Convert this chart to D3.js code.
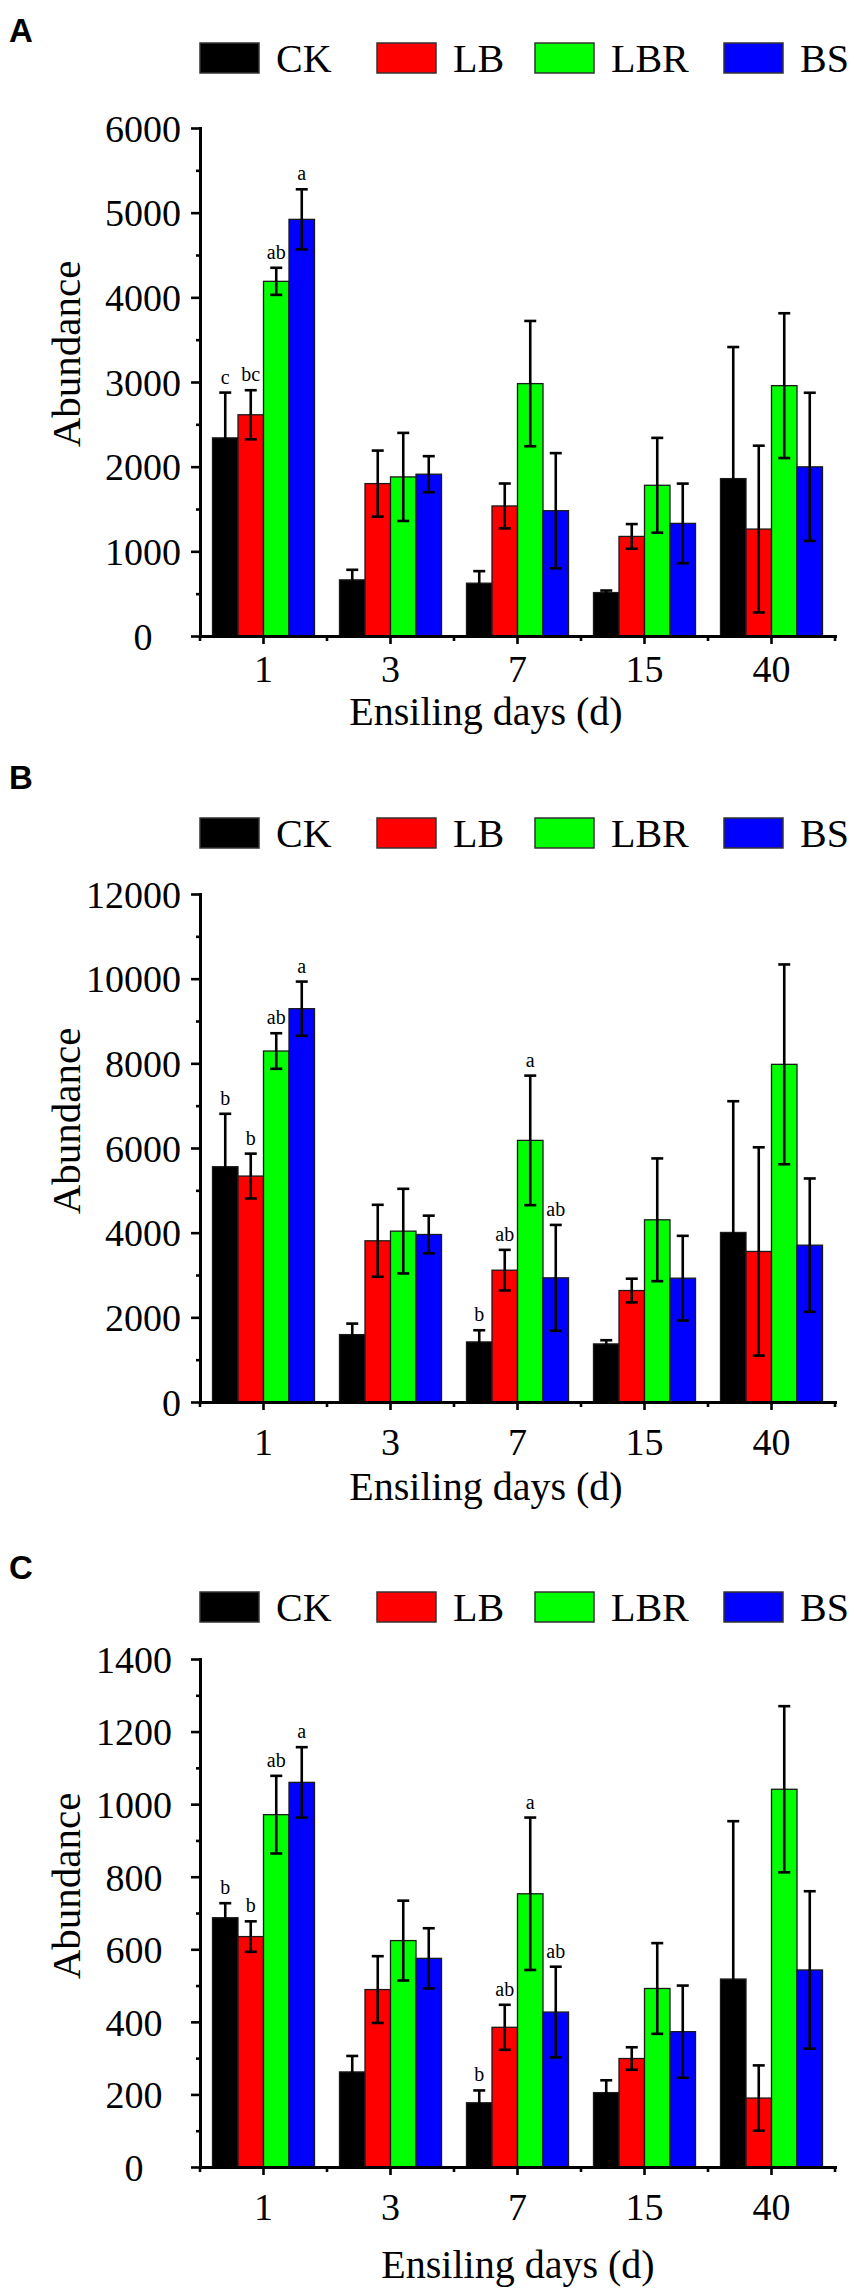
<!DOCTYPE html>
<html>
<head>
<meta charset="utf-8">
<script src="https://cdn.jsdelivr.net/npm/d3@7"></script>
<style>
body{margin:0;background:#fff}
text{font-family:"Liberation Serif","Times New Roman",serif;fill:#000}
</style>
</head>
<body>
<svg id="fig" width="854" height="2296"></svg>
<script>
// categories and series
var days = ["1", "3", "7", "15", "40"];
var groups = ["CK", "LB", "LBR", "BS"];
var colors = ["#000000", "#ff0000", "#00ff00", "#0000ff"];

// panel A  (rows = CK, LB, LBR, BS ; columns = days)
var meansA = [
    [2340, 663, 624, 513, 1859],
    [2613, 1800, 1536, 1176, 1263],
    [4189, 1879, 2981, 1780, 2957],
    [4921, 1911, 1480, 1330, 1998]
];
var errsA = [
    [535, 119, 142, 24, 1554],
    [290, 390, 265, 146, 985],
    [160, 520, 740, 560, 855],
    [355, 213, 680, 470, 875]
];
var lettersA = [
    ["c", "", "", "", ""],
    ["bc", "", "", "", ""],
    ["ab", "", "", "", ""],
    ["a", "", "", "", ""]
];
var ticksA = [0, 1000, 2000, 3000, 4000, 5000, 6000];

// panel B
var meansB = [
    [5558, 1592, 1419, 1372, 4005],
    [5337, 3808, 3114, 2633, 3556],
    [8291, 4036, 6180, 4304, 7976],
    [9291, 3957, 2933, 2925, 3705]
];
var errsB = [
    [1250, 260, 276, 87, 3100],
    [530, 850, 480, 280, 2460],
    [420, 1000, 1530, 1450, 2360],
    [640, 445, 1250, 1000, 1575]
];
var lettersB = [
    ["b", "", "b", "", ""],
    ["b", "", "ab", "", ""],
    ["ab", "", "a", "", ""],
    ["a", "", "ab", "", ""]
];
var ticksB = [0, 2000, 4000, 6000, 8000, 10000, 12000];

// panel C
var meansC = [
    [687, 262, 177, 205, 518],
    [635, 489, 385, 299, 190],
    [971, 624, 753, 492, 1041],
    [1060, 575, 427, 373, 543]
];
var errsC = [
    [40, 44, 34, 34, 435],
    [42, 92, 62, 31, 90],
    [107, 110, 210, 125, 229],
    [97, 83, 125, 127, 217]
];
var lettersC = [
    ["b", "", "b", "", ""],
    ["b", "", "ab", "", ""],
    ["ab", "", "a", "", ""],
    ["a", "", "ab", "", ""]
];
var ticksC = [0, 200, 400, 600, 800, 1000, 1200, 1400];

// layout for each panel
var layouts = [
    {letter: "A", letterY: 42, legendY: 43, top: 128, base: 636, tickY: 682, titleY: 725, titleX: 486, yLabX: 143, yLabAnchor: "middle", yTitleY: 354},
    {letter: "B", letterY: 789, legendY: 818, top: 894, base: 1402, tickY: 1455, titleY: 1500, titleX: 486, yLabX: 181, yLabAnchor: "end", yTitleY: 1121},
    {letter: "C", letterY: 1579, legendY: 1592, top: 1659, base: 2167, tickY: 2220, titleY: 2278, titleX: 518, yLabX: 134, yLabAnchor: "middle", yTitleY: 1886}
];
var panelData = [
    {means: meansA, errs: errsA, letters: lettersA, ticks: ticksA},
    {means: meansB, errs: errsB, letters: lettersB, ticks: ticksB},
    {means: meansC, errs: errsC, letters: lettersC, ticks: ticksC}
];
var legendX = [200, 377, 535, 724];

var left = 200, right = 835;
var svg = d3.select("#fig");

function drawPanel(d, lay){
    var g = svg.append("g").attr("class", "panel" + lay.letter);

    var x0 = d3.scaleBand().domain(days).range([left, right]).padding(0);
    var x1 = d3.scaleBand().domain(groups).range([0, x0.bandwidth()])
        .paddingInner(0).paddingOuter(0.49);
    var y = d3.scaleLinear().domain([0, d.ticks[d.ticks.length - 1]]).range([lay.base, lay.top]);

    // panel letter
    g.append("text")
        .attr("x", 9).attr("y", lay.letterY)
        .style("font-family", "'Liberation Sans', Arial, sans-serif")
        .style("font-weight", "bold")
        .style("font-size", "33px")
        .text(lay.letter);

    // legend
    groups.forEach(function(name, i){
        g.append("rect")
            .attr("x", legendX[i]).attr("y", lay.legendY)
            .attr("width", 59).attr("height", 30)
            .attr("fill", colors[i]).attr("stroke", "#333").attr("stroke-width", 1.5);
        g.append("text")
            .attr("x", legendX[i] + 76).attr("y", lay.legendY + 29)
            .style("font-size", "40px")
            .text(name);
    });

    // bars
    var rows = [];
    groups.forEach(function(name, gi){
        days.forEach(function(day, di){
            rows.push({day: day, group: name, gi: gi, v: d.means[gi][di], e: d.errs[gi][di], lab: d.letters[gi][di]});
        });
    });

    g.append("g").selectAll("rect").data(rows).join("rect")
        .attr("x", function(r){ return x0(r.day) + x1(r.group); })
        .attr("y", function(r){ return y(r.v); })
        .attr("width", x1.bandwidth())
        .attr("height", function(r){ return lay.base - y(r.v); })
        .attr("fill", function(r){ return colors[r.gi]; })
        .attr("stroke", "#1a1a1a").attr("stroke-width", 1.3);

    // error bars
    var eg = g.append("g").attr("stroke", "#000").attr("stroke-width", 2.6);
    rows.forEach(function(r){
        var cx = x0(r.day) + x1(r.group) + x1.bandwidth() / 2;
        var y1 = y(r.v + r.e), y2 = y(r.v - r.e);
        eg.append("line").attr("x1", cx).attr("x2", cx).attr("y1", y1).attr("y2", y2);
        eg.append("line").attr("x1", cx - 6).attr("x2", cx + 6).attr("y1", y1).attr("y2", y1);
        eg.append("line").attr("x1", cx - 6).attr("x2", cx + 6).attr("y1", y2).attr("y2", y2);
        if(r.lab){
            g.append("text")
                .attr("x", cx).attr("y", y1 - 9)
                .attr("text-anchor", "middle")
                .style("font-size", "20px")
                .text(r.lab);
        }
    });

    // y axis
    var minor = d3.pairs(d.ticks).map(function(p){ return (p[0] + p[1]) / 2; });
    var ya = g.append("g").attr("transform", "translate(" + left + ",0)")
        .call(d3.axisLeft(y).tickValues(d.ticks).tickSize(9).tickSizeOuter(0).tickFormat(d3.format("d")));
    ya.select(".domain").attr("stroke-width", 3).attr("stroke-linecap", "square");
    ya.selectAll(".tick line").attr("stroke-width", 2.6);
    ya.selectAll(".tick text")
        .attr("x", lay.yLabX - left).attr("dy", "0.35em")
        .attr("text-anchor", lay.yLabAnchor)
        .style("font-family", "'Liberation Serif', 'Times New Roman', serif")
        .style("font-size", "38px").attr("fill", "#000");
    var ym = g.append("g").attr("transform", "translate(" + left + ",0)")
        .call(d3.axisLeft(y).tickValues(minor).tickSize(4).tickSizeOuter(0).tickFormat(""));
    ym.select(".domain").remove();
    ym.selectAll(".tick line").attr("stroke-width", 2.6);

    // x axis
    var xa = g.append("g").attr("transform", "translate(0," + lay.base + ")")
        .call(d3.axisBottom(x0).tickSize(8).tickSizeOuter(0));
    xa.select(".domain").attr("stroke-width", 3).attr("stroke-linecap", "square");
    xa.selectAll(".tick line").attr("stroke-width", 2.6);
    xa.selectAll(".tick text")
        .attr("y", lay.tickY - lay.base).attr("dy", 0)
        .style("font-family", "'Liberation Serif', 'Times New Roman', serif")
        .style("font-size", "38px").attr("fill", "#000");
    var bounds = days.map(function(day){ return x0(day); }).concat([right]);
    g.append("g").selectAll("line").data(bounds).join("line")
        .attr("x1", function(b){ return b; }).attr("x2", function(b){ return b; })
        .attr("y1", lay.base).attr("y2", lay.base + 5)
        .attr("stroke", "#000").attr("stroke-width", 2.6);

    // axis titles
    g.append("text")
        .attr("x", lay.titleX).attr("y", lay.titleY)
        .attr("text-anchor", "middle")
        .style("font-size", "40px")
        .text("Ensiling days (d)");
    g.append("text")
        .attr("transform", "translate(80," + lay.yTitleY + ") rotate(-90)")
        .attr("text-anchor", "middle")
        .style("font-size", "41px")
        .text("Abundance");
}

layouts.forEach(function(lay, i){ drawPanel(panelData[i], lay); });
</script>
</body>
</html>
